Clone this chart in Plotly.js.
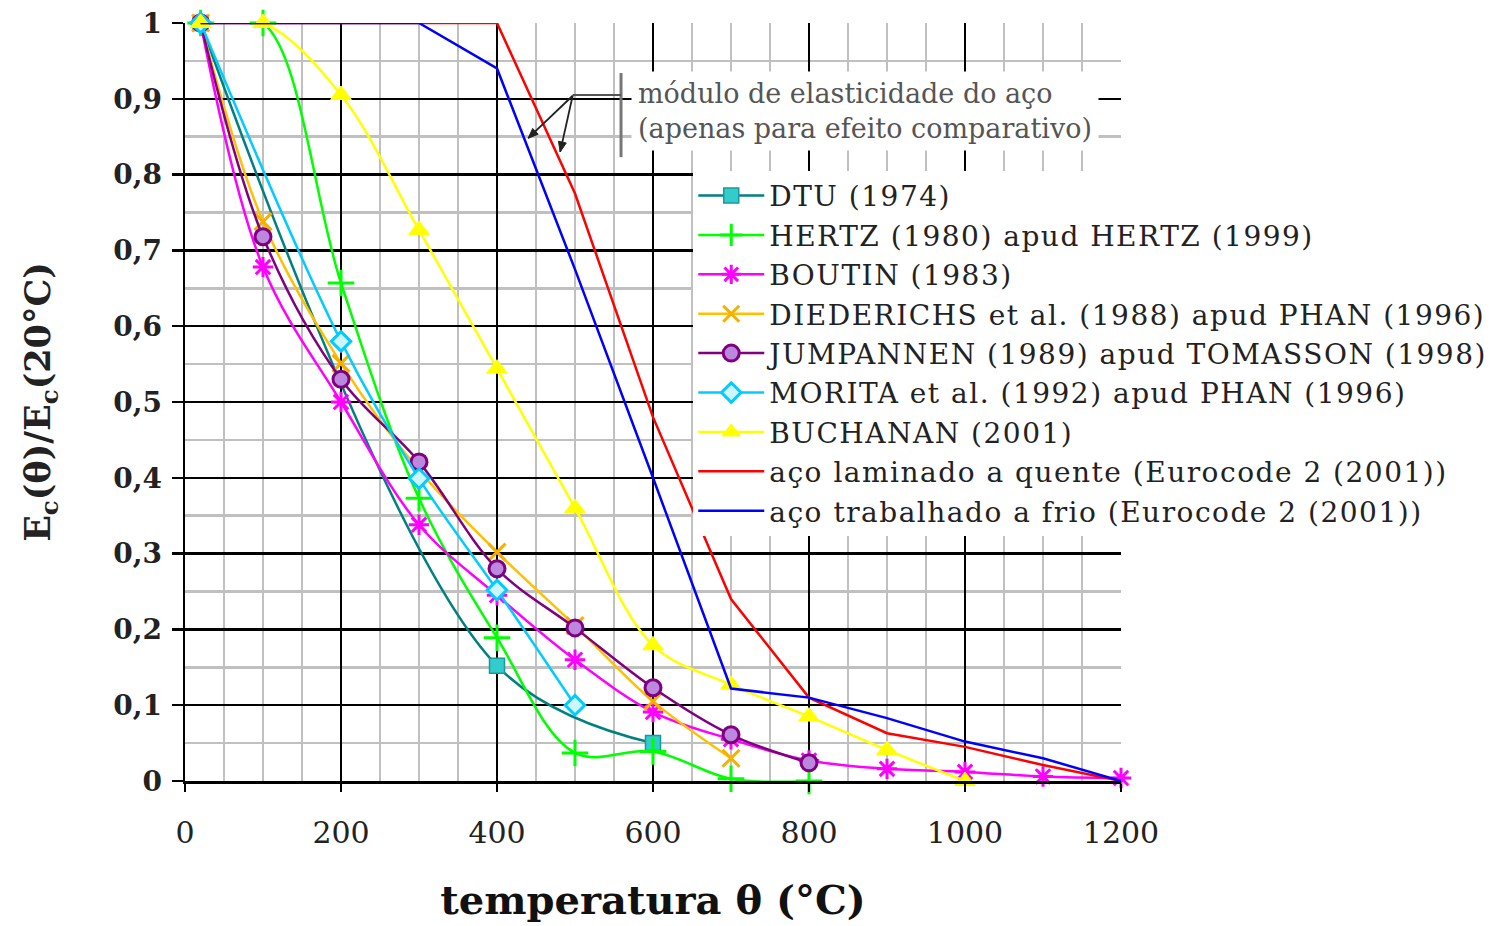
<!DOCTYPE html>
<html>
<head>
<meta charset="utf-8">
<script src="https://cdn.plot.ly/plotly-3.0.1.min.js"></script>
<style>
html,body{margin:0;padding:0;background:#fff;}
#chart{width:1499px;height:926px;}
.legendtext{letter-spacing:1.5px;}
</style>
</head>
<body>
<div id="chart"></div>
<script>
// ---- data ----
const dtuX = [20, 400, 600];
const dtuY = [1, 0.152, 0.05];

const hertzX = [20, 100, 200, 300, 400, 500, 600, 700, 800];
const hertzY = [1, 1, 0.657, 0.373, 0.189, 0.037, 0.039, 0.003, 0.0];

const boutinX = [20, 100, 200, 300, 400, 500, 600, 700, 800, 900, 1000, 1100, 1200];
const boutinY = [1, 0.678, 0.5, 0.338, 0.245, 0.16, 0.091, 0.055, 0.027, 0.016, 0.012, 0.006, 0.004];

const diedX = [20, 100, 200, 300, 400, 500, 600, 700];
const diedY = [1, 0.738, 0.551, 0.41, 0.302, 0.205, 0.105, 0.03];

const jumpX = [20, 100, 200, 300, 400, 500, 600, 700, 800];
const jumpY = [1, 0.718, 0.53, 0.421, 0.28, 0.202, 0.123, 0.061, 0.024];

const moritaX = [20, 200, 300, 400, 500];
const moritaY = [1, 0.58, 0.399, 0.252, 0.1];

const buchX = [20, 100, 200, 300, 400, 500, 600, 700, 800, 900, 1000];
const buchY = [1, 1, 0.905, 0.727, 0.544, 0.36, 0.179, 0.127, 0.085, 0.041, 0];

const steelX = [20, 100, 200, 300, 400, 500, 600, 700, 800, 900, 1000, 1100, 1200];
const hotRolledY = [1, 1, 1, 1, 1, 0.775, 0.48, 0.24, 0.11, 0.063, 0.045, 0.021, 0];
const coldWorkedY = [1, 1, 1, 1, 0.94, 0.675, 0.40, 0.122, 0.11, 0.083, 0.052, 0.03, 0];

const seriesNames = [
  'DTU (1974)',
  'HERTZ (1980) apud HERTZ (1999)',
  'BOUTIN (1983)',
  'DIEDERICHS et al. (1988) apud PHAN (1996)',
  'JUMPANNEN (1989) apud TOMASSON (1998)',
  'MORITA et al. (1992) apud PHAN (1996)',
  'BUCHANAN (2001)',
  'aço laminado a quente (Eurocode 2 (2001))',
  'aço trabalhado a frio (Eurocode 2 (2001))'
];
const xTickVals = [0, 200, 400, 600, 800, 1000, 1200];
const yTickVals = [0, 0.1, 0.2, 0.3, 0.4, 0.5, 0.6, 0.7, 0.8, 0.9, 1];
const noteLines = ['módulo de elasticidade do aço', '(apenas para efeito comparativo)'];
const xTitle = 'temperatura θ (°C)';
const yTitle = 'E<sub>c</sub>(θ)/E<sub>c</sub>(20°C)';

// ---- traces ----
const sp = {shape: 'spline', smoothing: 1};
const traces = [
  {x: dtuX, y: dtuY, name: seriesNames[0], mode: 'lines+markers',
   line: Object.assign({color: '#008080', width: 2.5}, sp),
   marker: {symbol: 'square', size: 15, color: '#33cccc', line: {color: '#1a9999', width: 1.5}}},
  {x: hertzX, y: hertzY, name: seriesNames[1], mode: 'lines+markers',
   line: Object.assign({color: '#00ff00', width: 2.5}, sp),
   marker: {symbol: 'cross-thin', size: 19, color: '#00ff00', line: {color: '#00ff00', width: 3}}},
  {x: boutinX, y: boutinY, name: seriesNames[2], mode: 'lines+markers',
   line: Object.assign({color: '#ff00ff', width: 2.5}, sp),
   marker: {symbol: 'asterisk', size: 17, color: '#ff00ff', line: {color: '#ff00ff', width: 3}}},
  {x: diedX, y: diedY, name: seriesNames[3], mode: 'lines+markers',
   line: Object.assign({color: '#ffc000', width: 2.5}, sp),
   marker: {symbol: 'x-thin', size: 17, color: '#ffc000', line: {color: '#f5b000', width: 3}}},
  {x: jumpX, y: jumpY, name: seriesNames[4], mode: 'lines+markers',
   line: Object.assign({color: '#800080', width: 2.5}, sp),
   marker: {symbol: 'circle', size: 16, color: '#bb88dd', line: {color: '#800080', width: 3}}},
  {x: moritaX, y: moritaY, name: seriesNames[5], mode: 'lines+markers',
   line: Object.assign({color: '#00ccff', width: 2.5}, sp),
   marker: {symbol: 'diamond', size: 15, color: '#ccf5ff', line: {color: '#00ccff', width: 3}}},
  {x: buchX, y: buchY, name: seriesNames[6], mode: 'lines+markers',
   line: Object.assign({color: '#ffff00', width: 2.5}, sp),
   marker: {symbol: 'triangle-up', size: 18, color: '#ffff00', line: {color: '#ffff00', width: 1}}},
  {x: steelX, y: hotRolledY, name: seriesNames[7], mode: 'lines',
   line: {color: '#ff0000', width: 2.5}},
  {x: steelX, y: coldWorkedY, name: seriesNames[8], mode: 'lines',
   line: {color: '#0000ff', width: 2.5}}
];
traces.forEach(t => { t.type = 'scatter'; t.cliponaxis = false; });

const serif = 'DejaVu Serif, Liberation Serif, serif';

// ---- callout decoration (leader lines with small arrow heads) ----
const PX_PER_X = 936 / 1200, PX_PER_Y = 758 / 1;
function arrowHeadPath(x0, y0, x1, y1, len, half) {
  const dx = (x1 - x0) * PX_PER_X, dy = (y1 - y0) * PX_PER_Y;
  const d = Math.hypot(dx, dy), ux = dx / d, uy = dy / d;
  const bx = -ux * len, by = -uy * len;
  const lx = bx - uy * half, ly = by + ux * half;
  const rx = bx + uy * half, ry = by - ux * half;
  const X = v => (x1 + v / PX_PER_X), Y = v => (y1 + v / PX_PER_Y);
  return `M ${x1},${y1} L ${X(lx)},${Y(ly)} L ${X(rx)},${Y(ry)} Z`;
}
const hub = [497, 0.904];
const tips = [[440, 0.848], [481, 0.830]];
const shapes = [
  {type: 'line', xref: 'x', yref: 'y', x0: 559, x1: 559, y0: 0.823, y1: 0.934,
   line: {color: '#777', width: 3}},
  {type: 'line', xref: 'x', yref: 'y', x0: hub[0], x1: 559, y0: 0.905, y1: 0.905,
   line: {color: '#555', width: 2}}
];
tips.forEach(t => {
  shapes.push({type: 'line', xref: 'x', yref: 'y', x0: hub[0], y0: hub[1], x1: t[0], y1: t[1],
               line: {color: '#222', width: 1.8}});
  shapes.push({type: 'path', xref: 'x', yref: 'y', path: arrowHeadPath(hub[0], hub[1], t[0], t[1], 10, 4),
               fillcolor: '#222', line: {color: '#222', width: 1}});
});

const layout = {
  width: 1499, height: 926,
  margin: {l: 185, r: 378, t: 23, b: 145, autoexpand: false},
  paper_bgcolor: '#ffffff', plot_bgcolor: '#ffffff',
  separators: ', ',
  font: {family: serif, color: '#222'},
  showlegend: true,
  xaxis: {
    range: [0, 1200], tickvals: xTickVals, ticktext: xTickVals.map(String),
    showgrid: true, gridcolor: '#000000', gridwidth: 2.5,
    minor: {dtick: 50, tick0: 0, showgrid: true, gridcolor: '#c0c0c0', gridwidth: 2.5, ticks: ''},
    zeroline: false, showline: true, linecolor: '#000', linewidth: 2.5,
    ticks: 'outside', ticklen: 8, tickwidth: 2.5, tickcolor: '#000',
    ticklabelstandoff: 15,
    tickfont: {family: serif, size: 30, color: '#222'},
    title: {text: xTitle, font: {family: serif, size: 40, color: '#111', weight: 'bold'}, standoff: 38}
  },
  yaxis: {
    range: [0, 1], tickvals: yTickVals,
    showgrid: true, gridcolor: '#000000', gridwidth: 2.5,
    minor: {dtick: 0.05, tick0: 0, showgrid: true, gridcolor: '#c0c0c0', gridwidth: 2.5, ticks: ''},
    zeroline: false, showline: true, linecolor: '#000', linewidth: 2.5,
    ticks: 'outside', ticklen: 11, tickwidth: 2.5, tickcolor: '#000',
    ticklabelstandoff: 4,
    tickfont: {family: serif, size: 28, color: '#222', weight: 'bold'},
    title: {text: yTitle, font: {family: serif, size: 35, color: '#222', weight: 'bold'}, standoff: 52}
  },
  legend: {
    x: 0.543, xanchor: 'left', y: 0.805, yanchor: 'top',
    bgcolor: '#ffffff', borderwidth: 0, itemwidth: 66, tracegroupgap: 0,
    font: {family: serif, size: 28, color: '#222'}
  },
  shapes: shapes,
  annotations: [
    {x: 572, y: 0.884, xref: 'x', yref: 'y', xanchor: 'left', yanchor: 'middle', align: 'left',
     text: noteLines.join('<br>'), showarrow: false, bgcolor: '#ffffff', borderpad: 6,
     font: {family: serif, size: 27, color: '#555'}}
  ]
};

Plotly.newPlot('chart', traces, layout, {displayModeBar: false, staticPlot: true});
</script>
</body>
</html>
